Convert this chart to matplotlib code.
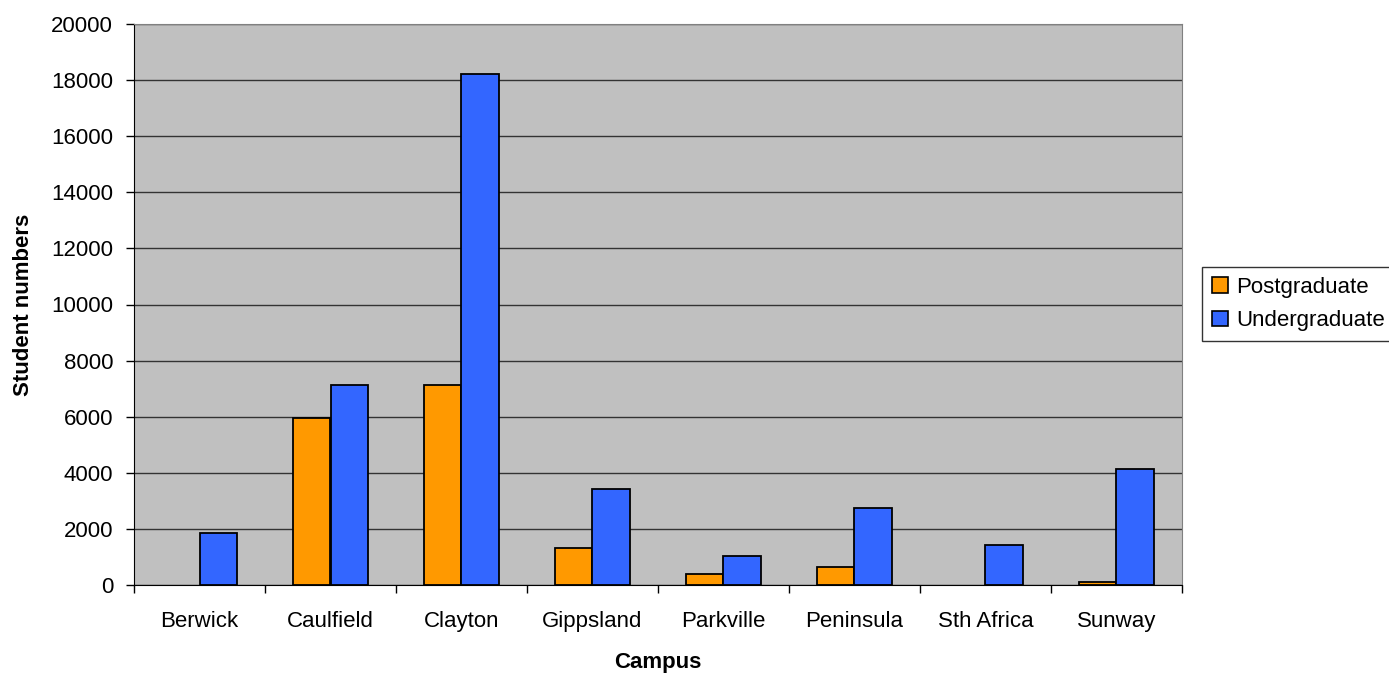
import matplotlib
matplotlib.use("Agg")
import matplotlib.pyplot as plt
from matplotlib.patches import Patch
import numpy as np

campuses = ["Berwick", "Caulfield", "Clayton", "Gippsland", "Parkville", "Peninsula", "Sth Africa", "Sunway"]
postgraduate = [0, 5950, 7140, 1310, 385, 650, 0, 120]
undergraduate = [1850, 7140, 18210, 3420, 1035, 2760, 1435, 4150]
y_ticks = [0, 2000, 4000, 6000, 8000, 10000, 12000, 14000, 16000, 18000, 20000]

plt.rcParams['font.family'] = ['Liberation Sans', 'DejaVu Sans']

fig = plt.figure(figsize=(13.89, 6.73), dpi=100)
ax = fig.add_axes([134/1389, 1-585/673, (1182-134)/1389, (585-24)/673])
ax.set_facecolor('#C0C0C0')

x = np.arange(len(campuses))
w = 0.2857
pg_color, ug_color = '#FF9900', '#3366FF'
pg_edges = ['black' if v > 0 else 'none' for v in postgraduate]
ug_edges = ['black' if v > 0 else 'none' for v in undergraduate]
ax.bar(x - w/2, postgraduate, w, color=pg_color, edgecolor=pg_edges, linewidth=1.3, zorder=3)
ax.bar(x + w/2, undergraduate, w, color=ug_color, edgecolor=ug_edges, linewidth=1.3, zorder=3)

ax.set_xlim(-0.5, len(campuses) - 0.5)
ax.set_ylim(0, 20000)
ax.set_yticks(y_ticks)
ax.set_yticklabels([str(v) for v in y_ticks], fontsize=16)
ax.yaxis.grid(True, color='#333333', linewidth=1, zorder=0)
ax.set_axisbelow(True)

ax.set_xticks(x)
ax.set_xticklabels(campuses, fontsize=16)
ax.tick_params(axis='x', length=0, pad=19)
ax.set_xticks(np.arange(len(campuses) + 1) - 0.5, minor=True)
ax.tick_params(axis='x', which='minor', length=6, width=1, direction='out')
ax.tick_params(axis='y', length=6, width=1, direction='out', pad=9)

for s in ['top', 'right']:
    ax.spines[s].set_color('#808080')
for s in ['left', 'bottom']:
    ax.spines[s].set_color('black')

ax.set_xlabel('Campus', fontsize=16, fontweight='bold', labelpad=14)
ax.set_ylabel('Student numbers', fontsize=16, fontweight='bold', labelpad=12)

handles = [Patch(facecolor=pg_color, edgecolor='black', linewidth=1.2, label='Postgraduate'),
           Patch(facecolor=ug_color, edgecolor='black', linewidth=1.2, label='Undergraduate')]
leg = fig.legend(handles=handles, loc='center left', bbox_to_anchor=(1202/1389, 1-304/673), fontsize=16,
                 frameon=True, fancybox=False, edgecolor='black', handlelength=0.7, handleheight=0.7,
                 handletextpad=0.4, borderpad=0.45, labelspacing=0.55, borderaxespad=0)
leg.get_frame().set_linewidth(1)

fig.savefig('out.png', dpi=100, facecolor='white')
